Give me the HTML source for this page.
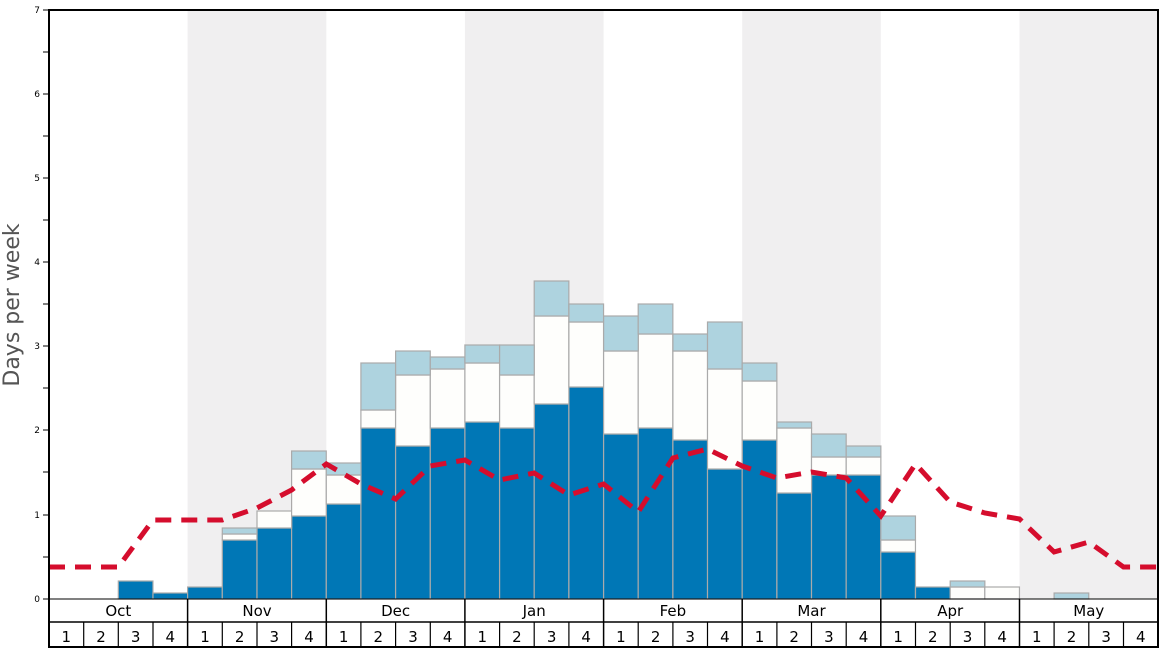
<!DOCTYPE html>
<html><head><meta charset="utf-8"><style>
html,body{margin:0;padding:0;background:#fff;}
svg{display:block;font-family:"DejaVu Sans","Liberation Sans",sans-serif;}
</style></head><body>
<svg width="1168" height="648" viewBox="0 0 1168 648" xmlns="http://www.w3.org/2000/svg">
<rect x="0" y="0" width="1168" height="648" fill="#fff"/>
<g fill="#f0eff0">
<rect x="187.6" y="10" width="138.7" height="589"/>
<rect x="464.9" y="10" width="138.7" height="589"/>
<rect x="742.2" y="10" width="138.6" height="589"/>
<rect x="1019.5" y="10" width="138.5" height="589"/>
</g>
<g stroke="#aaa" stroke-width="1.2">
<!-- dark -->
<g fill="#0077b6">
<rect x="118.3" y="581" width="34.66" height="18"/>
<rect x="153" y="593" width="34.66" height="6"/>
<rect x="187.6" y="587" width="34.66" height="12"/>
<rect x="222.3" y="540" width="34.66" height="59"/>
<rect x="257" y="528" width="34.66" height="71"/>
<rect x="291.6" y="516" width="34.66" height="83"/>
<rect x="326.3" y="504" width="34.66" height="95"/>
<rect x="360.9" y="428" width="34.66" height="171"/>
<rect x="395.6" y="446" width="34.66" height="153"/>
<rect x="430.3" y="428" width="34.66" height="171"/>
<rect x="464.9" y="422" width="34.66" height="177"/>
<rect x="499.6" y="428" width="34.66" height="171"/>
<rect x="534.2" y="404" width="34.66" height="195"/>
<rect x="568.9" y="387" width="34.66" height="212"/>
<rect x="603.6" y="434" width="34.66" height="165"/>
<rect x="638.2" y="428" width="34.66" height="171"/>
<rect x="672.9" y="440" width="34.66" height="159"/>
<rect x="707.5" y="469" width="34.66" height="130"/>
<rect x="742.2" y="440" width="34.66" height="159"/>
<rect x="776.9" y="493" width="34.66" height="106"/>
<rect x="811.5" y="475" width="34.66" height="124"/>
<rect x="846.2" y="475" width="34.66" height="124"/>
<rect x="880.8" y="552" width="34.66" height="47"/>
<rect x="915.5" y="587" width="34.66" height="12"/>
</g>
<!-- white -->
<g fill="#fefefc">
<rect x="222.3" y="534" width="34.66" height="6"/>
<rect x="257" y="511" width="34.66" height="17"/>
<rect x="291.6" y="469" width="34.66" height="47"/>
<rect x="326.3" y="475" width="34.66" height="29"/>
<rect x="360.9" y="410" width="34.66" height="18"/>
<rect x="395.6" y="375" width="34.66" height="71"/>
<rect x="430.3" y="369" width="34.66" height="59"/>
<rect x="464.9" y="363" width="34.66" height="59"/>
<rect x="499.6" y="375" width="34.66" height="53"/>
<rect x="534.2" y="316" width="34.66" height="88"/>
<rect x="568.9" y="322" width="34.66" height="65"/>
<rect x="603.6" y="351" width="34.66" height="83"/>
<rect x="638.2" y="334" width="34.66" height="94"/>
<rect x="672.9" y="351" width="34.66" height="89"/>
<rect x="707.5" y="369" width="34.66" height="100"/>
<rect x="742.2" y="381" width="34.66" height="59"/>
<rect x="776.9" y="428" width="34.66" height="65"/>
<rect x="811.5" y="457" width="34.66" height="18"/>
<rect x="846.2" y="457" width="34.66" height="18"/>
<rect x="880.8" y="540" width="34.66" height="12"/>
<rect x="950.2" y="587" width="34.66" height="12"/>
<rect x="984.8" y="587" width="34.66" height="12"/>
</g>
<!-- light -->
<g fill="#aed3df">
<rect x="222.3" y="528" width="34.66" height="6"/>
<rect x="291.6" y="451" width="34.66" height="18"/>
<rect x="326.3" y="463" width="34.66" height="12"/>
<rect x="360.9" y="363" width="34.66" height="47"/>
<rect x="395.6" y="351" width="34.66" height="24"/>
<rect x="430.3" y="357" width="34.66" height="12"/>
<rect x="464.9" y="345" width="34.66" height="18"/>
<rect x="499.6" y="345" width="34.66" height="30"/>
<rect x="534.2" y="281" width="34.66" height="35"/>
<rect x="568.9" y="304" width="34.66" height="18"/>
<rect x="603.6" y="316" width="34.66" height="35"/>
<rect x="638.2" y="304" width="34.66" height="30"/>
<rect x="672.9" y="334" width="34.66" height="17"/>
<rect x="707.5" y="322" width="34.66" height="47"/>
<rect x="742.2" y="363" width="34.66" height="18"/>
<rect x="776.9" y="422" width="34.66" height="6"/>
<rect x="811.5" y="434" width="34.66" height="23"/>
<rect x="846.2" y="446" width="34.66" height="11"/>
<rect x="880.8" y="516" width="34.66" height="24"/>
<rect x="950.2" y="581" width="34.66" height="6"/>
<rect x="1054.1" y="593" width="34.66" height="6"/>
</g>
</g>
<polyline fill="none" stroke="#d50d2d" stroke-width="5" stroke-dasharray="16,10"
points="49,567 83.7,567 118.3,567 153,520 187.6,520 222.3,520 257,508 291.6,490 326.3,464 360.9,484 395.6,499 430.3,466 464.9,460 499.6,480 534.2,473 568.9,495 603.6,484 638.2,512 672.9,458 707.5,449 742.2,466 776.9,478 811.5,472 846.2,478 880.8,516 915.5,464 950.2,502 984.8,513 1019.5,519 1054.1,552 1088.8,542 1123.5,567 1158,567"/>
<!-- axes -->
<rect x="49" y="10" width="1109" height="637" fill="none" stroke="#000" stroke-width="2"/>
<line x1="49" y1="599" x2="1158" y2="599" stroke="#000" stroke-width="1"/>
<line x1="49" y1="622" x2="1158" y2="622" stroke="#000" stroke-width="1.5"/>
<g stroke="#000" stroke-width="1">
<line x1="43" y1="10" x2="49" y2="10"/><line x1="43" y1="52" x2="49" y2="52"/>
<line x1="43" y1="94" x2="49" y2="94"/><line x1="43" y1="136" x2="49" y2="136"/>
<line x1="43" y1="178" x2="49" y2="178"/><line x1="43" y1="220" x2="49" y2="220"/>
<line x1="43" y1="262" x2="49" y2="262"/><line x1="43" y1="304" x2="49" y2="304"/>
<line x1="43" y1="346" x2="49" y2="346"/><line x1="43" y1="388" x2="49" y2="388"/>
<line x1="43" y1="430" x2="49" y2="430"/><line x1="43" y1="472" x2="49" y2="472"/>
<line x1="43" y1="515" x2="49" y2="515"/><line x1="43" y1="557" x2="49" y2="557"/>
<line x1="43" y1="599" x2="49" y2="599"/>
</g>
<g font-size="9" text-anchor="end" fill="#000">
<text x="40" y="13">7</text><text x="40" y="97">6</text><text x="40" y="181">5</text>
<text x="40" y="265">4</text><text x="40" y="349">3</text><text x="40" y="433">2</text>
<text x="40" y="518">1</text><text x="40" y="602">0</text>
</g>
<text transform="translate(19,305) rotate(-90)" font-size="22" fill="#555" text-anchor="middle">Days per week</text>
<g stroke="#000" stroke-width="1.5">
<line x1="187.6" y1="599" x2="187.6" y2="647"/><line x1="326.3" y1="599" x2="326.3" y2="647"/>
<line x1="464.9" y1="599" x2="464.9" y2="647"/><line x1="603.6" y1="599" x2="603.6" y2="647"/>
<line x1="742.2" y1="599" x2="742.2" y2="647"/><line x1="880.8" y1="599" x2="880.8" y2="647"/>
<line x1="1019.5" y1="599" x2="1019.5" y2="647"/>
</g>
<g stroke="#000" stroke-width="1.2">
<line x1="83.7" y1="622" x2="83.7" y2="647"/><line x1="118.3" y1="622" x2="118.3" y2="647"/><line x1="153" y1="622" x2="153" y2="647"/>
<line x1="222.3" y1="622" x2="222.3" y2="647"/><line x1="257" y1="622" x2="257" y2="647"/><line x1="291.6" y1="622" x2="291.6" y2="647"/>
<line x1="360.9" y1="622" x2="360.9" y2="647"/><line x1="395.6" y1="622" x2="395.6" y2="647"/><line x1="430.3" y1="622" x2="430.3" y2="647"/>
<line x1="499.6" y1="622" x2="499.6" y2="647"/><line x1="534.2" y1="622" x2="534.2" y2="647"/><line x1="568.9" y1="622" x2="568.9" y2="647"/>
<line x1="638.2" y1="622" x2="638.2" y2="647"/><line x1="672.9" y1="622" x2="672.9" y2="647"/><line x1="707.5" y1="622" x2="707.5" y2="647"/>
<line x1="776.9" y1="622" x2="776.9" y2="647"/><line x1="811.5" y1="622" x2="811.5" y2="647"/><line x1="846.2" y1="622" x2="846.2" y2="647"/>
<line x1="915.5" y1="622" x2="915.5" y2="647"/><line x1="950.2" y1="622" x2="950.2" y2="647"/><line x1="984.8" y1="622" x2="984.8" y2="647"/>
<line x1="1054.1" y1="622" x2="1054.1" y2="647"/><line x1="1088.8" y1="622" x2="1088.8" y2="647"/><line x1="1123.5" y1="622" x2="1123.5" y2="647"/>
</g>
<g font-size="15" text-anchor="middle" fill="#000">
<text x="118.3" y="616">Oct</text><text x="257" y="616">Nov</text><text x="395.6" y="616">Dec</text>
<text x="534.2" y="616">Jan</text><text x="672.9" y="616">Feb</text><text x="811.5" y="616">Mar</text>
<text x="950.2" y="616">Apr</text><text x="1088.8" y="616">May</text>
</g>
<g font-size="15" text-anchor="middle" fill="#000">
<text x="66.3" y="642">1</text><text x="101" y="642">2</text><text x="135.6" y="642">3</text><text x="170.3" y="642">4</text>
<text x="205" y="642">1</text><text x="239.6" y="642">2</text><text x="274.3" y="642">3</text><text x="309" y="642">4</text>
<text x="343.6" y="642">1</text><text x="378.3" y="642">2</text><text x="413" y="642">3</text><text x="447.6" y="642">4</text>
<text x="482.3" y="642">1</text><text x="516.9" y="642">2</text><text x="551.6" y="642">3</text><text x="586.2" y="642">4</text>
<text x="620.9" y="642">1</text><text x="655.6" y="642">2</text><text x="690.2" y="642">3</text><text x="724.9" y="642">4</text>
<text x="759.5" y="642">1</text><text x="794.2" y="642">2</text><text x="828.9" y="642">3</text><text x="863.5" y="642">4</text>
<text x="898.2" y="642">1</text><text x="932.8" y="642">2</text><text x="967.5" y="642">3</text><text x="1002.2" y="642">4</text>
<text x="1036.8" y="642">1</text><text x="1071.5" y="642">2</text><text x="1106.1" y="642">3</text><text x="1140.8" y="642">4</text>
</g>
</svg>
</body></html>
